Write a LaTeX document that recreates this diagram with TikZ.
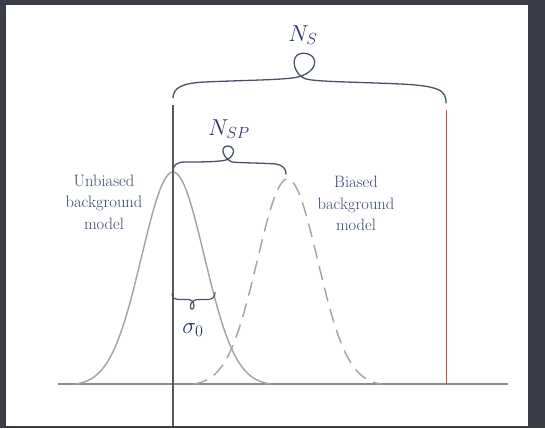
\RequirePackage{fix-cm}
\documentclass[tikz,border=0pt]{standalone}
\definecolor{bgdark}{HTML}{3A3D48}
\definecolor{bracecol}{HTML}{46546A}
\definecolor{txtblue}{HTML}{36486F}
\definecolor{mathblue}{HTML}{283663}
\definecolor{curvegray}{HTML}{A4A4A4}
\definecolor{axisgray}{HTML}{8C8C8C}
\definecolor{axisdark}{HTML}{5A5A5A}
\definecolor{redline}{HTML}{D9483B}
\begin{document}
\begin{tikzpicture}[x=1pt,y=-1pt,line join=round,line cap=round]
\tikzset{
  bracestyle/.style={draw=bracecol,line width=1.3pt},
  gauss/.style={draw=curvegray,line width=1.45pt},
  modeltext/.style={align=center,text=txtblue,inner sep=0pt,font=\fontsize{16.5}{21.5}\selectfont},
  mathlabel/.style={anchor=base,inner sep=0pt,text=mathblue,font=\fontsize{23}{26}\selectfont}
}
\useasboundingbox (0,0) rectangle (545,428);
\fill[bgdark] (0,0) rectangle (545,428);
\fill[white] (6,5) rectangle (528,426);

% axes
\coordinate (xl) at (58,384);
\coordinate (xr) at (508,384);
\coordinate (yt) at (173,105);
\coordinate (yb) at (173,426);
\coordinate (rt) at (446.5,110);
\coordinate (rb) at (446.5,384);
\draw[axisgray,line width=2pt,line cap=butt] (xl) -- (xr);

% gaussians
\draw[gauss] plot[domain=-3.1:3.1,samples=90,smooth]
  ({173+31.3*\x},{384-212*(exp(-\x*\x/2)-0.0082)/0.9918});
\draw[gauss,dash pattern=on 14pt off 8pt,line cap=butt] plot[domain=-3.1:3.1,samples=90,smooth]
  ({287.5+30.2*\x},{384-205*(exp(-\x*\x/2)-0.0082)/0.9918});

\draw[axisdark,line width=1.2pt,line cap=butt] (yt) -- (yb);
\draw[redline,line width=1.8pt,line cap=butt] (rt) -- (rb);

% N_S brace
\coordinate (nsl) at (173,98);
\coordinate (nsr) at (446,103);
\draw[bracestyle] (nsl) .. controls (173,88) and (182,83) .. (205,82)
  .. controls (250,80) and (285,80) .. (298,77)
  .. controls (310,74) and (317,66) .. (314,59)
  .. controls (311,52) and (298,51) .. (295,58)
  .. controls (292,65) and (297,76) .. (306,79)
  .. controls (318,82) and (360,82) .. (400,84)
  .. controls (425,85) and (438,88) .. (442,92)
  .. controls (446,96) and (446,100) .. (nsr);
\node[mathlabel] (nS) at (303,41.5) {$N_S$};

% N_SP brace
\coordinate (nspl) at (173,171);
\coordinate (nspr) at (286,174);
\draw[bracestyle] (nspl) .. controls (173,165) and (177,162) .. (185,162)
  .. controls (200,162) and (218,162) .. (226,160)
  .. controls (232,158) and (235,152) .. (233,149)
  .. controls (231,145) and (224,145) .. (223,149)
  .. controls (222,153) and (226,160) .. (232,162)
  .. controls (240,163) and (265,163) .. (276,164)
  .. controls (283,165) and (286,169) .. (nspr);
\node[mathlabel] (nSP) at (229,135) {$N_{SP}$};

% sigma brace
\coordinate (sgl) at (172,294);
\coordinate (sgr) at (215,292.5);
\draw[bracestyle,line width=1.2pt] (sgl) .. controls (172,298) and (175,299.5) .. (180,299.5)
  -- (189,299.5)
  .. controls (193,300) and (195,305) .. (193.5,308)
  .. controls (192,311) and (189,308) .. (191,303.5)
  .. controls (193,300) and (196,299.5) .. (200,299.5)
  -- (208,299.5)
  .. controls (212,299.5) and (215,297) .. (sgr);
\node[mathlabel] (sig) at (193,333) {$\sigma_0$};

% texts
\node[modeltext] (unb) at (104,202) {Unbiased\\background\\model};
\node[modeltext] (bia) at (356,203.5) {Biased\\background\\model};
\end{tikzpicture}
\end{document}
